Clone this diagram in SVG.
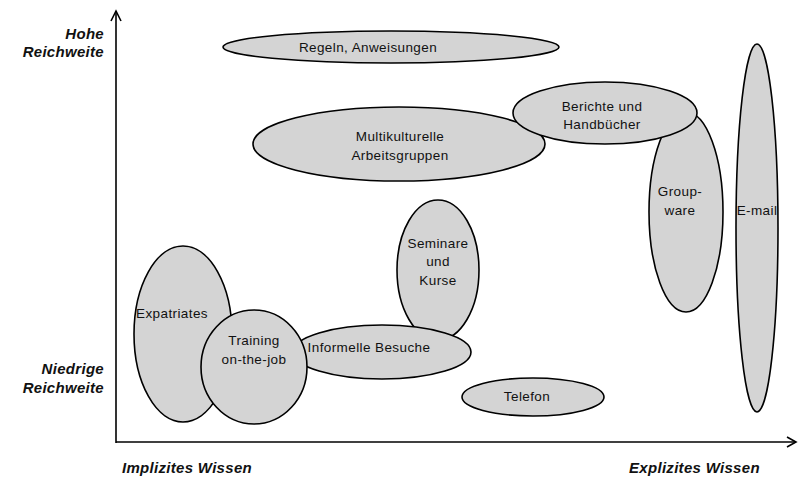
<svg xmlns="http://www.w3.org/2000/svg" width="798" height="477" viewBox="0 0 798 477">
  <style>
    .node ellipse { fill: #d4d4d4; stroke: #000; stroke-width: 1.6; }
    .lbl { font-family: "Liberation Sans", Arial, sans-serif; font-size: 13.5px; letter-spacing: 0.4px; fill: #111; text-anchor: middle; }
    .axis-lbl { font-family: "Liberation Sans", Arial, sans-serif; font-size: 15px; font-weight: bold; font-style: italic; fill: #111; letter-spacing: 0.3px; }
    .axis { stroke: #000; stroke-width: 1.6; fill: none; }
  </style>

  <!-- axes -->
  <g id="axes">
    <line class="axis" x1="116" y1="11" x2="116" y2="443"/>
    <polyline class="axis" points="111,21 116,11 121,21"/>
    <line class="axis" x1="116" y1="442" x2="796" y2="442"/>
    <polyline class="axis" points="787,437 796,442 787,447"/>
  </g>

  <!-- axis labels -->
  <g id="axis-labels">
    <text class="axis-lbl" x="104" y="39" text-anchor="end">Hohe</text>
    <text class="axis-lbl" x="104" y="57" text-anchor="end">Reichweite</text>
    <text class="axis-lbl" x="104" y="374" text-anchor="end">Niedrige</text>
    <text class="axis-lbl" x="104" y="393" text-anchor="end">Reichweite</text>
    <text class="axis-lbl" x="122" y="473">Implizites Wissen</text>
    <text class="axis-lbl" x="629" y="473">Explizites Wissen</text>
  </g>

  <g id="regeln" class="node">
    <ellipse cx="391" cy="47" rx="168" ry="16"/>
    <text class="lbl" x="368" y="52">Regeln, Anweisungen</text>
  </g>

  <g id="multikulturelle" class="node">
    <ellipse cx="399" cy="144" rx="146" ry="37"/>
    <text class="lbl" x="400" y="141">Multikulturelle</text>
    <text class="lbl" x="400" y="160">Arbeitsgruppen</text>
  </g>

  <g id="groupware" class="node">
    <ellipse cx="686" cy="212" rx="37" ry="100"/>
    <text class="lbl" x="680" y="196">Group-</text>
    <text class="lbl" x="680" y="215">ware</text>
  </g>

  <g id="berichte" class="node">
    <ellipse cx="605" cy="113" rx="92" ry="31"/>
    <text class="lbl" x="602" y="111">Berichte und</text>
    <text class="lbl" x="602" y="129">Handbücher</text>
  </g>

  <g id="email" class="node">
    <ellipse cx="757" cy="228" rx="21" ry="184"/>
    <text class="lbl" x="757" y="215">E-mail</text>
  </g>

  <g id="seminare" class="node">
    <ellipse cx="438" cy="270" rx="41" ry="70"/>
    <text class="lbl" x="438" y="248">Seminare</text>
    <text class="lbl" x="438" y="266">und</text>
    <text class="lbl" x="438" y="285">Kurse</text>
  </g>

  <g id="informelle" class="node">
    <ellipse cx="382" cy="352" rx="89" ry="27"/>
    <text class="lbl" x="369" y="352">Informelle Besuche</text>
  </g>

  <g id="expatriates" class="node">
    <ellipse cx="183" cy="334" rx="49" ry="88"/>
    <text class="lbl" x="172" y="318">Expatriates</text>
  </g>

  <g id="training" class="node">
    <ellipse cx="254" cy="367" rx="53" ry="57"/>
    <text class="lbl" x="254" y="345">Training</text>
    <text class="lbl" x="254" y="364">on-the-job</text>
  </g>

  <g id="telefon" class="node">
    <ellipse cx="533" cy="397" rx="71" ry="19"/>
    <text class="lbl" x="527" y="401">Telefon</text>
  </g>
</svg>
